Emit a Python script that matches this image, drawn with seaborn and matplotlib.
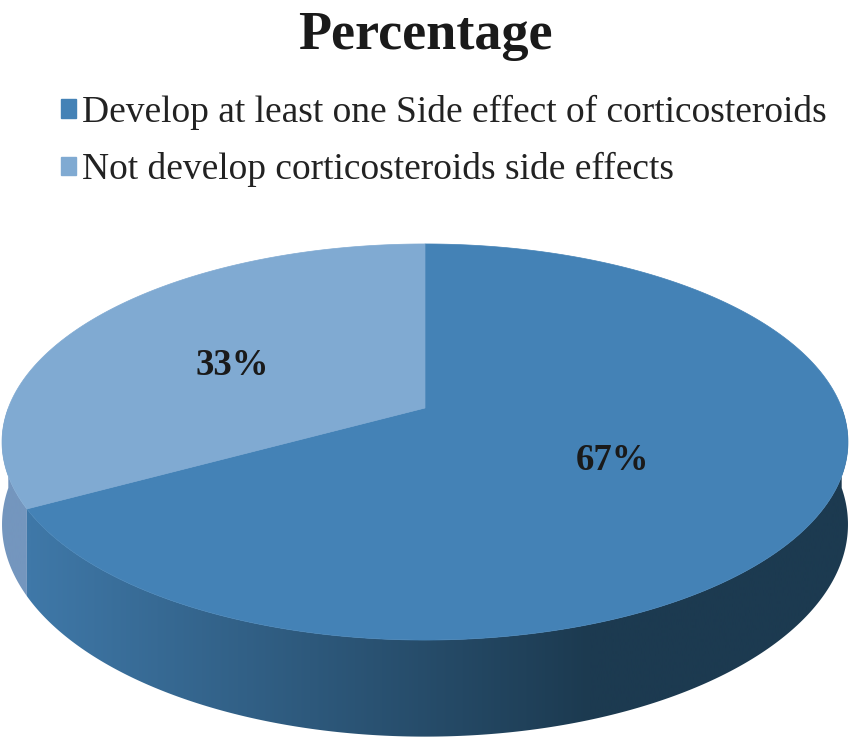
import numpy as np
import matplotlib
matplotlib.use("Agg")
import matplotlib.pyplot as plt
from matplotlib.colors import to_rgb
from matplotlib.patches import Patch, Polygon
import seaborn as sns

# data
labels = ["Develop at least one Side effect of corticosteroids",
          "Not develop corticosteroids side effects"]
values = [67, 33]
pct_text = ["67%", "33%"]

top_colors = ["#4482b6", "#80aad2"]
side_left = ["#3f78a8", "#7496be"]
side_right = ["#1c3a50", "#6a8cb2"]

sns.set_theme(style="white")
plt.rcParams['font.family'] = ['Liberation Serif', 'DejaVu Serif']

fig = plt.figure(figsize=(8.54, 7.42), dpi=100)
ax = fig.add_axes([0, 0, 1, 1])
ax.set_xlim(0, 854)
ax.set_ylim(742, 0)
ax.axis('off')

# perspective ellipse (screen pixels)
CX, CY = 425, 408
A, B, K = 192.2, 416.7, 0.1717
D = 80


def proj(t, r=1.0, drop=0.0):
    u, v = r * np.cos(t), r * np.sin(t)
    w = 1 + K * v
    return CX + B * u / w, CY + (-A * v + drop) / w


# slice angles (clockwise from 12 o'clock)
fracs = np.array(values) / sum(values)
starts = 90 - 360 * np.concatenate([[0], np.cumsum(fracs)[:-1]])
ends = starts - 360 * fracs

# side walls, front half only, horizontal gradient clipped to the wall
gx = np.linspace(0, 854, 600)
for i in range(len(values)):
    a0 = np.deg2rad(ends[i]) % (2 * np.pi)
    a1 = a0 + np.deg2rad(360 * fracs[i])
    lo, hi = max(a0, np.pi), min(a1, 2 * np.pi)
    if lo >= hi:
        continue
    ts = np.linspace(lo, hi, 300)
    xt, yt = proj(ts)
    xb, yb = proj(ts, drop=D)
    pts = np.column_stack([np.r_[xt, xb[::-1]], np.r_[yt, yb[::-1]]])
    wall = Polygon(pts, closed=True, fc='none', ec='none')
    ax.add_patch(wall)
    c0, c1 = np.array(to_rgb(side_left[i])), np.array(to_rgb(side_right[i]))
    f = np.clip((gx - 30) / (590 - 30), 0, 1)[:, None]
    grad = (c0 + (c1 - c0) * f)[None, :, :]
    im = ax.imshow(grad, extent=[0, 854, 742, 0], aspect='auto',
                   interpolation='bilinear', zorder=1)
    im.set_clip_path(wall)
    ax.fill(pts[:, 0], pts[:, 1], fc='none', ec=side_left[i], lw=0, zorder=1)

# top faces
for i in range(len(values)):
    ts = np.deg2rad(np.linspace(starts[i], ends[i], 400))
    xs, ys = proj(ts)
    ax.fill(np.r_[CX, xs], np.r_[CY, ys], color=top_colors[i], lw=0.5,
            ec=top_colors[i], zorder=2)

# percentage labels
label_r = [0.5, 0.5]
label_off = [(0, 1), (-21, 4)]
for i in range(len(values)):
    mid = np.deg2rad((starts[i] + ends[i]) / 2)
    lx, ly = proj(mid, r=label_r[i])
    ax.text(lx + label_off[i][0], ly + label_off[i][1], pct_text[i],
            ha='center', va='center', fontsize=26.5,
            fontweight='bold', color='#1a1a1a', zorder=3)

ax.text(425, 36, "Percentage", ha='center', va='center', fontsize=39,
        fontweight='bold', color='#1a1a1a')

handles = [Patch(facecolor=c, edgecolor=c) for c in top_colors]
leg = ax.legend(handles, labels, loc='upper left', bbox_to_anchor=(0.072, 0.872),
                frameon=False, fontsize=27, handlelength=0.4, handleheight=0.4,
                handletextpad=0.15, labelspacing=0.59, borderpad=0, borderaxespad=0)
for t in leg.get_texts():
    t.set_color('#222222')

fig.savefig("out.png", dpi=100)
